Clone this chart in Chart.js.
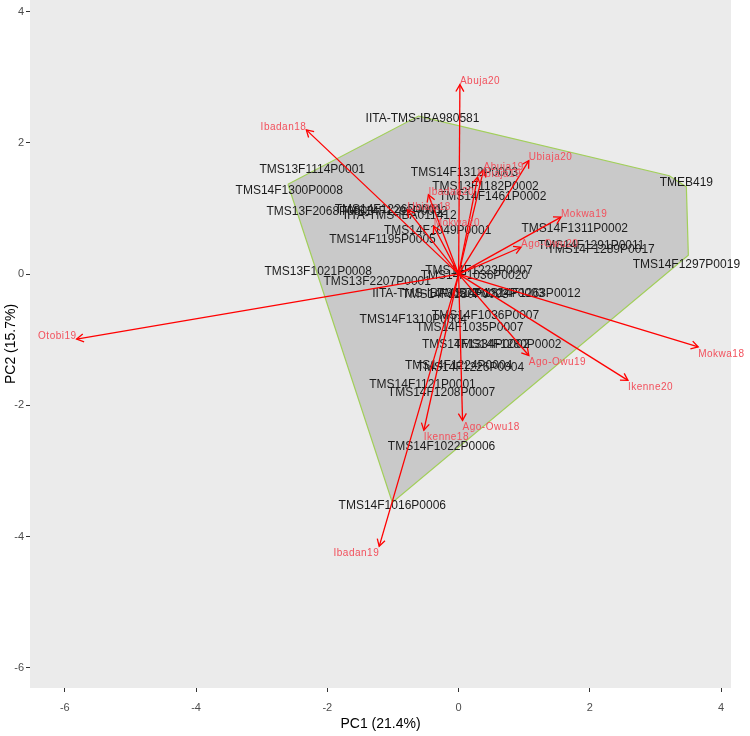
<!DOCTYPE html>
<html>
<head>
<meta charset="utf-8">
<script src="https://cdn.jsdelivr.net/npm/chart.js@4.4.0/dist/chart.umd.min.js"></script>
<style>
html,body{margin:0;padding:0;background:#ffffff;}
#wrap{width:750px;height:736px;position:relative;}
</style>
</head>
<body>
<div id="wrap"><canvas id="c"></canvas></div>
<script>
// ---- genotype scores ----
const genotypes = ["IITA-TMS-IBA980581","TMS13F1114P0001","TMS14F1300P0008","TMS13F2068P0003","TMS14F1292P0002","IITA-TMS-IBA011412","TMS14F1226P0001","TMEB419","TMS14F1312P0003","TMS13F1182P0002","TMS14F1461P0002","TMS14F1311P0002","TMS14F1291P0011","TMS14F1289P0017","TMS14F1297P0019","TMS14F1195P0005","TMS14F1049P0001","TMS13F1021P0008","TMS13F2207P0001","TMS14F1223P0007","TMS14F1036P0020","IITA-TMS-IBA30572","TMS14F1180P0003","TMS14F1224P0003","TMS14F1263P0012","TMS14F1310P0004","TMS14F1036P0007","TMS14F1035P0007","TMS14F1334P0002","TMS14F1280P0002","TMS14F1224P0004","TMS14F1226P0004","TMS14F1121P0001","TMS14F1208P0007","TMS14F1022P0006","TMS14F1016P0006"];
const pc1 = [-0.55,-2.23,-2.58,-2.11,-0.99,-0.89,-1.07,3.47,0.09,0.41,0.52,1.77,2.02,2.17,3.47,-1.16,-0.32,-2.14,-1.24,0.31,0.24,-0.50,-0.05,0.49,1.04,-0.69,0.41,0.17,0.26,0.75,0.00,0.18,-0.55,-0.26,-0.26,-1.01];
const pc2 = [2.37,1.60,1.28,0.96,0.95,0.89,0.99,1.39,1.54,1.33,1.18,0.70,0.43,0.38,0.14,0.52,0.66,0.03,-0.12,0.05,-0.02,-0.30,-0.31,-0.30,-0.30,-0.69,-0.63,-0.82,-1.08,-1.08,-1.40,-1.42,-1.68,-1.80,-2.63,-3.53];

// ---- environment loadings (arrows) ----
const envNames = ["Abuja20","Ibadan18","Ubiaja20","Mokwa19","Otobi19","Mokwa18","Ikenne20","Ago-Owu19","Ago-Owu18","Ikenne18","Ibadan19","Ago-Owu20","Abuja19","Ubiaja19","Ibadan20","Ubiaja18","Mokwa20"];
const envPC1 = [0.02,-2.32,1.07,1.56,-5.82,3.65,2.58,1.07,0.06,-0.53,-1.21,0.95,0.38,0.29,-0.46,-0.78,-0.38];
const envPC2 = [2.89,2.20,1.73,0.87,-0.99,-1.11,-1.62,-1.24,-2.23,-2.38,-4.15,0.41,1.59,1.48,1.21,0.98,0.73];

// ---- convex hull vertices ----
const hullPC1 = [-2.60,-0.61,3.21,3.47,3.50,-1.01];
const hullPC2 = [1.37,2.41,1.50,1.33,0.29,-3.48];

// ---- axis ticks ----
const xTicks = [-6,-4,-2,0,2,4];
const yTicks = [-6,-4,-2,0,2,4];

const FONT = '"Liberation Sans", Arial, Helvetica, sans-serif';

const hullData = hullPC1.map((v,i)=>({x:v,y:hullPC2[i]}));
hullData.push({x:hullPC1[0],y:hullPC2[0]});

const datasets = [];
datasets.push({
  label:'hull', data:hullData, showLine:true, fill:'shape',
  backgroundColor:'#C9C9C9', borderColor:'#A2CF5A', borderWidth:1.2,
  pointRadius:0, tension:0, order:3
});
datasets.push({
  label:'geno', data:pc1.map((v,i)=>({x:v,y:pc2[i]})),
  pointRadius:0, showLine:false, order:2
});
envNames.forEach((n,i)=>{
  datasets.push({
    label:'env_'+n, data:[{x:0,y:0},{x:envPC1[i],y:envPC2[i]}],
    showLine:true, borderColor:'#FF0000', borderWidth:1.3,
    pointRadius:0, fill:false, order:1
  });
});

const bgPlugin = {
  id:'panelBg',
  beforeDraw(chart){
    const {ctx, chartArea:a} = chart;
    ctx.save();
    ctx.fillStyle = '#EBEBEB';
    ctx.fillRect(a.left, a.top, a.right-a.left, a.bottom-a.top);
    ctx.restore();
  }
};

const labelPlugin = {
  id:'labels',
  afterDatasetDraw(chart, args){
    if (chart.data.datasets[args.index].label !== 'geno') return;
    const ctx = chart.ctx;
    ctx.save();
    ctx.font = '12px ' + FONT;
    ctx.fillStyle = '#1c1c1c';
    ctx.textAlign = 'center';
    ctx.textBaseline = 'middle';
    args.meta.data.forEach((el,i)=>{ ctx.fillText(genotypes[i], el.x, el.y); });
    ctx.restore();
  },
  afterDatasetsDraw(chart){
    const ctx = chart.ctx, xs = chart.scales.x, ys = chart.scales.y, a = chart.chartArea;
    const ox = xs.getPixelForValue(0), oy = ys.getPixelForValue(0);
    const cx = (a.left+a.right)/2, cy = (a.top+a.bottom)/2;
    ctx.save();
    ctx.strokeStyle = '#FF0000';
    ctx.lineWidth = 1.3;
    envNames.forEach((n,i)=>{
      const tx = xs.getPixelForValue(envPC1[i]), ty = ys.getPixelForValue(envPC2[i]);
      const ang = Math.atan2(ty-oy, tx-ox);
      const L = 8, h = Math.PI/6;
      ctx.beginPath();
      ctx.moveTo(tx - L*Math.cos(ang-h), ty - L*Math.sin(ang-h));
      ctx.lineTo(tx, ty);
      ctx.lineTo(tx - L*Math.cos(ang+h), ty - L*Math.sin(ang+h));
      ctx.stroke();
    });
    ctx.font = '10px ' + FONT;
    try { ctx.letterSpacing = '0.5px'; } catch(e) {}
    ctx.fillStyle = '#F2505C';
    ctx.textBaseline = 'middle';
    envNames.forEach((n,i)=>{
      const tx = xs.getPixelForValue(envPC1[i]), ty = ys.getPixelForValue(envPC2[i]);
      ctx.textAlign = tx < cx ? 'right' : 'left';
      ctx.fillText(n, tx, ty + (ty < cy ? -3 : 7));
    });
    ctx.restore();
  }
};

new Chart(document.getElementById('c'), {
  type:'scatter',
  data:{ datasets },
  options:{
    responsive:true, maintainAspectRatio:false, animation:false,
    layout:{ padding:{left:0,right:19,top:0,bottom:0} },
    plugins:{ legend:{display:false}, tooltip:{enabled:false} },
    scales:{
      x:{
        type:'linear', min:-6.53, max:4.15,
        afterBuildTicks:(s)=>{ s.ticks = xTicks.map(v=>({value:v})); },
        afterFit:(s)=>{ s.height = 48; s.paddingLeft = 0; s.paddingRight = 0; },
        grid:{ display:true, drawOnChartArea:false, drawTicks:true, tickLength:4, color:'#333333', lineWidth:1 },
        border:{ display:false },
        ticks:{ color:'#4D4D4D', font:{family:FONT,size:11}, padding:9, maxRotation:0, autoSkip:false, callback:(v)=>String(v) },
        title:{ display:true, text:'PC1 (21.4%)', color:'#000000', font:{family:FONT,size:14}, padding:{top:0,bottom:3} }
      },
      y:{
        type:'linear', min:-6.31, max:4.18,
        afterBuildTicks:(s)=>{ s.ticks = yTicks.map(v=>({value:v})); },
        afterFit:(s)=>{ s.width = 30; s.paddingTop = 0; s.paddingBottom = 0; },
        grid:{ display:true, drawOnChartArea:false, drawTicks:true, tickLength:4, color:'#333333', lineWidth:1 },
        border:{ display:false },
        ticks:{ color:'#4D4D4D', font:{family:FONT,size:11}, padding:2, autoSkip:false, callback:(v)=>String(v) },
        title:{ display:true, text:'PC2 (15.7%)', color:'#000000', font:{family:FONT,size:14}, padding:{top:3,bottom:0} }
      }
    }
  },
  plugins:[bgPlugin, labelPlugin]
});
</script>
</body>
</html>
